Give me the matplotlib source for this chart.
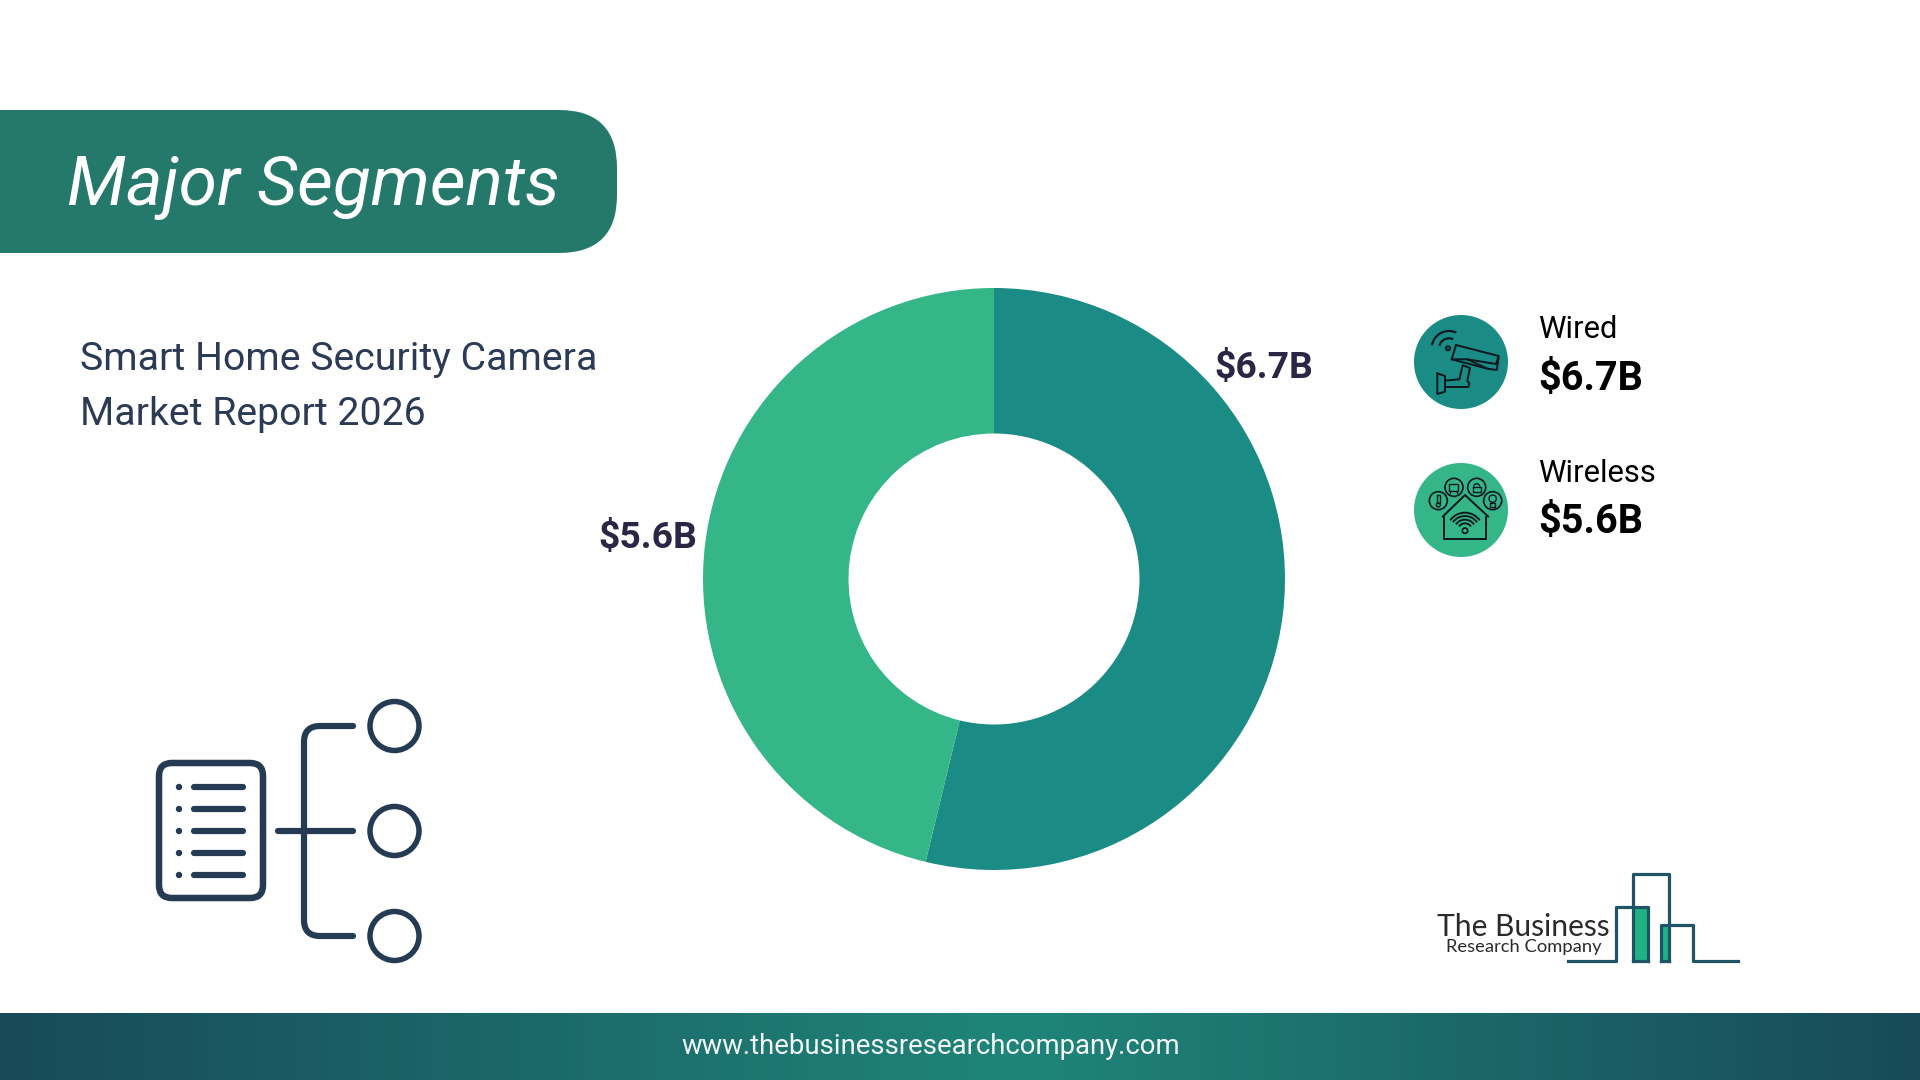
import numpy as np
import matplotlib
matplotlib.use("Agg")
import matplotlib.pyplot as plt
from matplotlib.patches import FancyBboxPatch, Circle, Arc, PathPatch, Rectangle
from matplotlib.path import Path

# slice sizes
segments = ["Wired", "Wireless"]
slice_values = [6.62, 5.69]
value_labels = ["$6.7B", "$5.6B"]
slice_colors = ["#1B8C85", "#34B688"]

title = "Major Segments"
report_lines = ["Smart Home Security Camera", "Market Report 2026"]
website = "www.thebusinessresearchcompany.com"

NAVY = "#243B53"
LOGO_DARK = "#1F5467"
LOGO_GREEN = "#1FB384"
INK = "#0E1A20"

plt.rcParams["font.family"] = ["Roboto", "DejaVu Sans"]


def px(size):
    # font size for a height given in pixels (dpi 100)
    return size * 0.72


def lw(size):
    return size * 0.72


fig = plt.figure(figsize=(19.2, 10.8), dpi=100, facecolor="white")

# page axes, in pixels of the 1920x1080 image
ax = fig.add_axes([0, 0, 1, 1])
ax.set_xlim(0, 1920)
ax.set_ylim(1080, 0)
ax.axis("off")

# header banner
ax.add_patch(FancyBboxPatch((-80, 110), 697, 143, boxstyle="round,pad=0,rounding_size=58",
                            facecolor="#24796B", edgecolor="none"))
ax.text(67, 205, title, fontsize=px(69.5), style="italic", color="white", va="baseline")

# report name
ax.text(80, 370, report_lines[0], fontsize=px(39.3), color="#2B3A55", va="baseline")
ax.text(80, 425, report_lines[1], fontsize=px(39.3), color="#2B3A55", va="baseline")

# footer gradient
stops = np.interp(np.linspace(0, 1, 600), [0, 0.53, 1], [0, 1, 0])
left = np.array(matplotlib.colors.to_rgb("#184A58"))
mid = np.array(matplotlib.colors.to_rgb("#1F8579"))
band = (left[None, :] * (1 - stops[:, None]) + mid[None, :] * stops[:, None])[None, :, :]
ax.imshow(band, extent=(0, 1920, 1080, 1013), aspect="auto", zorder=1)
ax.set_xlim(0, 1920)
ax.set_ylim(1080, 0)
ax.text(931, 1047, website, fontsize=px(27.5), color="#F2F5F5", ha="center", va="center", zorder=2)

# donut
pie_ax = fig.add_axes([(994 - 291) / 1920, 1 - (579 + 291) / 1080, 582 / 1920, 582 / 1080])
pie_ax.pie(slice_values, colors=slice_colors, startangle=90, counterclock=False, radius=1,
           wedgeprops=dict(width=0.5, edgecolor="none"))
pie_ax.set_xlim(-1, 1)
pie_ax.set_ylim(-1, 1)

ax.text(1264, 368, value_labels[0], fontsize=px(37.3), fontweight="bold", color="#2A2745",
        ha="center", va="center")
ax.text(648, 538, value_labels[1], fontsize=px(37.3), fontweight="bold", color="#2A2745",
        ha="center", va="center")

# legend text
ax.text(1538, 338, segments[0], fontsize=px(31), color="black", va="baseline")
ax.text(1538, 390, value_labels[0], fontsize=px(39.6), fontweight="bold", color="black", va="baseline")
ax.text(1538, 482, segments[1], fontsize=px(31), color="black", va="baseline")
ax.text(1538, 533, value_labels[1], fontsize=px(39.6), fontweight="bold", color="black", va="baseline")

ax.add_patch(Circle((1461, 362), 47, facecolor=slice_colors[0], edgecolor="none"))
ax.add_patch(Circle((1461, 510), 47, facecolor=slice_colors[1], edgecolor="none"))


# the two legend icons are traced in the coordinates of a 3x crop at (1380, 290)
def zx(v):
    return 1380 + v / 3


def zy(v):
    return 290 + v / 3


def icon_line(points, width=2.0, closed=False):
    xs = [zx(p[0]) for p in points]
    ys = [zy(p[1]) for p in points]
    if closed:
        xs.append(xs[0])
        ys.append(ys[0])
    ax.plot(xs, ys, color=INK, lw=lw(width), solid_joinstyle="round", solid_capstyle="round", zorder=4)


def icon_ring(cx, cy, r, width=1.7):
    ax.add_patch(Circle((zx(cx), zy(cy)), r / 3, facecolor="none", edgecolor=INK, lw=lw(width), zorder=4))


def icon_arc(cx, cy, r, a0, a1, width=1.9):
    ax.add_patch(Arc((zx(cx), zy(cy)), 2 * r / 3, 2 * r / 3, theta1=a0, theta2=a1,
                     edgecolor=INK, lw=lw(width), zorder=4))


# camera
icon_arc(207, 175, 30, 195, 295, 2.2)
icon_arc(207, 175, 52, 190, 295, 2.2)
icon_ring(204, 175, 6, 2)
icon_line([(228, 165), (356, 198), (348, 222), (262, 208), (215, 208)], closed=True)
icon_line([(215, 208), (322, 236), (350, 240), (356, 205)])
icon_line([(262, 208), (320, 235)])
icon_line([(172, 250), (195, 258), (195, 305), (172, 312)], closed=True)
icon_line([(195, 272), (238, 268), (248, 226), (270, 234), (262, 272), (268, 280), (265, 291), (195, 291)])

# smart home
icon_line([(188, 680), (255, 615), (325, 680)])
icon_line([(192, 682), (192, 748), (318, 748), (318, 682)])
for r in [22, 33, 44, 54]:
    icon_arc(255, 722, r, 215, 325)
icon_ring(255, 722, 8)
for cx, cy in [(175, 632), (222, 592), (290, 592), (338, 632)]:
    icon_ring(cx, cy, 27)
icon_line([(170, 615), (180, 615), (180, 638), (170, 638)], closed=True, width=1.4)
icon_ring(175, 645, 6, 1.4)
icon_line([(208, 582), (234, 582), (234, 602), (208, 602)], closed=True, width=1.4)
icon_line([(210, 602), (210, 608)], width=1.4)
icon_line([(232, 602), (232, 608)], width=1.4)
icon_line([(278, 590), (302, 590), (302, 606), (278, 606)], closed=True, width=1.4)
icon_arc(290, 590, 9, 180, 360, 1.4)
icon_ring(338, 626, 11, 1.4)
icon_line([(331, 638), (345, 638), (345, 651), (331, 651)], closed=True, width=1.4)

# document and tree icon
ax.add_patch(FancyBboxPatch((159, 763), 104, 135, boxstyle="round,pad=0,rounding_size=13",
                            facecolor="none", edgecolor=NAVY, lw=lw(6.5)))
for y in [787, 809, 831, 853, 875]:
    ax.add_patch(Circle((179, y), 3.2, facecolor=NAVY, edgecolor="none"))
    ax.plot([194, 243], [y, y], color=NAVY, lw=lw(6.2), solid_capstyle="round")

bracket = Path([(353, 726), (320, 726), (304, 726), (304, 742), (304, 920), (304, 936), (320, 936), (353, 936)],
               [Path.MOVETO, Path.LINETO, Path.CURVE3, Path.CURVE3, Path.LINETO, Path.CURVE3, Path.CURVE3, Path.LINETO])
ax.add_patch(PathPatch(bracket, facecolor="none", edgecolor=NAVY, lw=lw(6.2), capstyle="round"))
ax.plot([278, 353], [831, 831], color=NAVY, lw=lw(6.2), solid_capstyle="round")
for y in [726, 831, 936]:
    ax.add_patch(Circle((394.5, y), 24.5, facecolor="none", edgecolor=NAVY, lw=lw(5.5)))

# company logo
ax.add_patch(Rectangle((1633, 907), 15, 54, facecolor=LOGO_GREEN, edgecolor="none"))
ax.add_patch(Rectangle((1661, 925), 8, 36, facecolor=LOGO_GREEN, edgecolor="none"))
ax.plot([1568, 1616, 1616, 1648, 1648], [961, 961, 907, 907, 961], color=LOGO_DARK, lw=lw(3.2))
ax.plot([1633, 1633, 1669, 1669], [961, 874, 874, 961], color=LOGO_DARK, lw=lw(3.2))
ax.plot([1633, 1648], [961, 961], color=LOGO_DARK, lw=lw(3.2))
ax.plot([1661, 1661, 1693, 1693, 1738], [961, 925, 925, 961, 961], color=LOGO_DARK, lw=lw(3.2))
ax.plot([1661, 1669], [961, 961], color=LOGO_DARK, lw=lw(3.2))
ax.text(1437, 936, "The Business", fontsize=px(30), family="Lato", color="#2A2A2A", va="baseline")
ax.text(1446, 952, "Research Company", fontsize=px(18.4), family="Lato", color="#2A2A2A", va="baseline")

fig.savefig("out.png", dpi=100, facecolor="white")
